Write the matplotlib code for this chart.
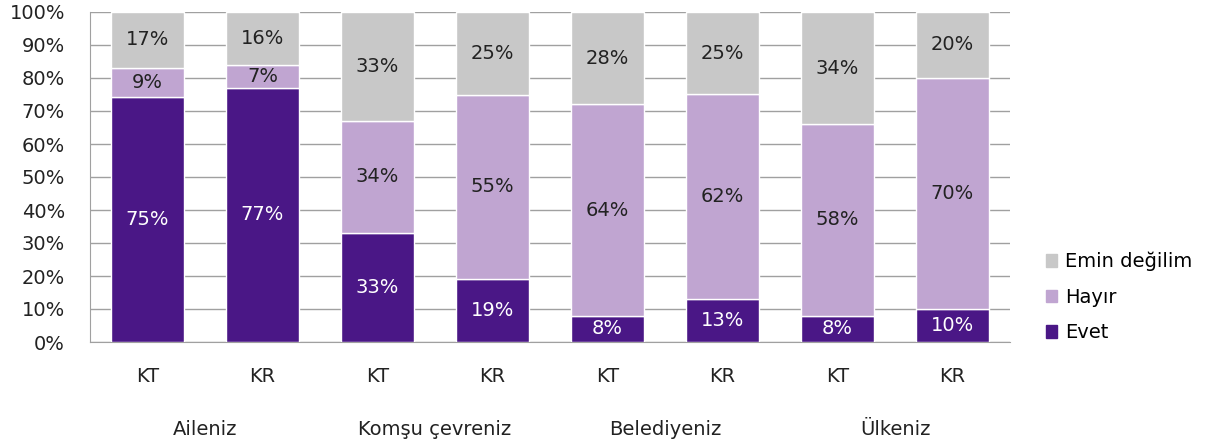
import numpy as np
import matplotlib.pyplot as plt
from matplotlib.patches import Patch

groups = ['Aileniz', 'Komşu çevreniz', 'Belediyeniz', 'Ülkeniz']
sub_labels = ['KT', 'KR', 'KT', 'KR', 'KT', 'KR', 'KT', 'KR']
evet = [75, 77, 33, 19, 8, 13, 8, 10]
hayir = [9, 7, 34, 55, 64, 62, 58, 70]
emin = [17, 16, 33, 25, 28, 25, 34, 20]

series = [('Evet', evet, '#4a1786', 'white'),
          ('Hayır', hayir, '#c0a5d1', '#222222'),
          ('Emin değilim', emin, '#c8c8c8', '#222222')]

totals = np.array(evet) + np.array(hayir) + np.array(emin)
fs = 14

fig = plt.figure(figsize=(12.11, 4.48), dpi=100)
ax = fig.add_axes([90 / 1211, 106 / 448, 920 / 1211, 330 / 448])

x = np.arange(len(sub_labels))
bottom = np.zeros(len(x))
for name, vals, color, tcolor in series:
    h = np.array(vals) / totals * 100
    ax.bar(x, h, 0.63, bottom=bottom, color=color, edgecolor='white',
           linewidth=1, label=name, zorder=3)
    for xi, b, hi, v in zip(x, bottom, h, vals):
        ax.text(xi, b + hi / 2, f'{v}%', ha='center', va='center',
                color=tcolor, fontsize=fs, zorder=4)
    bottom += h

ax.set_xlim(-0.5, len(x) - 0.5)
ax.set_ylim(0, 100)
ax.set_yticks(range(0, 101, 10))
ax.set_yticklabels([f'{v}%' for v in range(0, 101, 10)], fontsize=fs, color='#222222')
ax.set_xticks(x)
ax.set_xticklabels(sub_labels, fontsize=fs, color='#222222')
ax.tick_params(length=0, axis='y', pad=18)
ax.tick_params(length=0, axis='x', pad=18)
ax.grid(axis='y', color='#a0a0a0', linewidth=1, zorder=0)
for s in ['top', 'right']:
    ax.spines[s].set_visible(False)
for s in ['left', 'bottom']:
    ax.spines[s].set_color('#a0a0a0')

for i, g in enumerate(groups):
    ax.text(2 * i + 0.5, -26.5, g, ha='center', va='center', fontsize=fs,
            color='#222222', clip_on=False)

handles = [Patch(color=c, label=n) for n, _, c, _ in series][::-1]
fig.legend(handles=handles, loc='center left',
           bbox_to_anchor=(1036 / 1211, 1 - 297 / 448),
           frameon=False, fontsize=fs, handlelength=0.6, handleheight=0.6,
           handletextpad=0.4, labelspacing=0.85, borderpad=0)

fig.savefig('out.png', dpi=100)
